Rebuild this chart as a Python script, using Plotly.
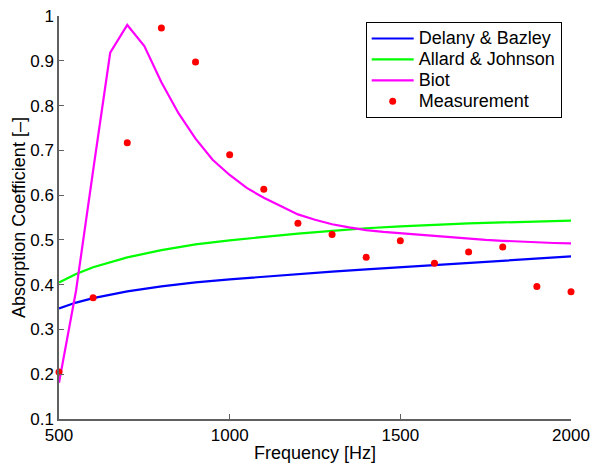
import plotly.graph_objects as go

# Model frequencies [Hz]
freq_models = [500, 550, 600, 700, 800, 900, 1000, 1100, 1200, 1300,
               1400, 1500, 1600, 1700, 1800, 1900, 2000]
delany_bazley = [0.347, 0.360, 0.370, 0.385, 0.396, 0.405, 0.412, 0.418, 0.424,
                 0.429, 0.434, 0.439, 0.444, 0.449, 0.454, 0.459, 0.463]
allard_johnson = [0.405, 0.424, 0.439, 0.461, 0.477, 0.490, 0.499, 0.507, 0.514,
                  0.520, 0.526, 0.530, 0.534, 0.537, 0.539, 0.541, 0.543]

# Biot model, 50 Hz resolution
freq_biot = [500, 550, 600, 650, 700, 750, 800, 850, 900, 950, 1000, 1050, 1100,
             1150, 1200, 1250, 1300, 1350, 1400, 1450, 1500, 1550, 1600, 1650,
             1700, 1750, 1800, 1850, 1900, 1950, 2000]
biot = [0.181, 0.387, 0.655, 0.918, 0.980, 0.933, 0.852, 0.783, 0.726, 0.679,
        0.645, 0.616, 0.594, 0.575, 0.557, 0.545, 0.535, 0.528, 0.522, 0.518,
        0.515, 0.511, 0.508, 0.505, 0.502, 0.500, 0.498, 0.496, 0.494, 0.493,
        0.492]

# Impedance tube measurement
freq_meas = [500, 600, 700, 800, 900, 1000, 1100, 1200, 1300, 1400, 1500,
             1600, 1700, 1800, 1900, 2000]
measurement = [0.205, 0.371, 0.717, 0.973, 0.897, 0.690, 0.613, 0.537, 0.512,
               0.461, 0.498, 0.448, 0.473, 0.484, 0.396, 0.384]

x_ticks = [500, 1000, 1500, 2000]
x_tick_text = ["500", "1000", "1500", "2000"]
y_ticks = [0.1, 0.2, 0.3, 0.4, 0.5, 0.6, 0.7, 0.8, 0.9, 1.0]
y_tick_text = ["0.1", "0.2", "0.3", "0.4", "0.5", "0.6", "0.7", "0.8", "0.9", "1"]

FONT = "Liberation Sans, Arial, Helvetica, sans-serif"
AXIS_GRAY = "#606060"
LEGEND_TEXT_PX = 18


def legend_label(text):
    # larger glyphs than the legend's base size, keeping rows compact
    return f'<span style="font-size:{LEGEND_TEXT_PX}px">{text}</span>'


fig = go.Figure()
fig.add_trace(go.Scatter(x=freq_models, y=delany_bazley, mode="lines",
                         name=legend_label("Delany & Bazley"),
                         line=dict(color="#0000ff", width=2.2)))
fig.add_trace(go.Scatter(x=freq_models, y=allard_johnson, mode="lines",
                         name=legend_label("Allard & Johnson"),
                         line=dict(color="#00ff00", width=2.2)))
fig.add_trace(go.Scatter(x=freq_biot, y=biot, mode="lines",
                         name=legend_label("Biot"),
                         line=dict(color="#ff00ff", width=2.2)))
fig.add_trace(go.Scatter(x=freq_meas, y=measurement, mode="markers",
                         name=legend_label("Measurement"), cliponaxis=False,
                         marker=dict(color="#ff0000", size=7, line=dict(width=0))))

fig.update_layout(
    width=591, height=466,
    margin=dict(l=59, r=20, t=16, b=47),
    paper_bgcolor="white", plot_bgcolor="white",
    font=dict(family=FONT, size=17, color="black"),
    showlegend=True,
    legend=dict(
        x=0.599, y=0.985, xanchor="left", yanchor="top",
        bgcolor="white", bordercolor="black", borderwidth=1,
        font=dict(size=13.8), tracegroupgap=0, itemwidth=42,
    ),
    xaxis=dict(
        range=[500, 2000], tickvals=x_ticks, ticktext=x_tick_text,
        showline=True, linecolor=AXIS_GRAY, linewidth=1.5, mirror=False,
        ticks="inside", ticklen=5, tickcolor=AXIS_GRAY, tickwidth=1,
        showgrid=False, zeroline=False, automargin=False,
        title=dict(text="Frequency [Hz]", font=dict(size=18), standoff=2),
    ),
    yaxis=dict(
        range=[0.1, 1.0], tickvals=y_ticks, ticktext=y_tick_text,
        showline=True, linecolor=AXIS_GRAY, linewidth=1.5, mirror=False,
        ticks="inside", ticklen=5, tickcolor=AXIS_GRAY, tickwidth=1,
        showgrid=False, zeroline=False, automargin=False,
        title=dict(text="Absorption Coefficient [–]", font=dict(size=18), standoff=0),
    ),
)

fig.write_html("out.html")
